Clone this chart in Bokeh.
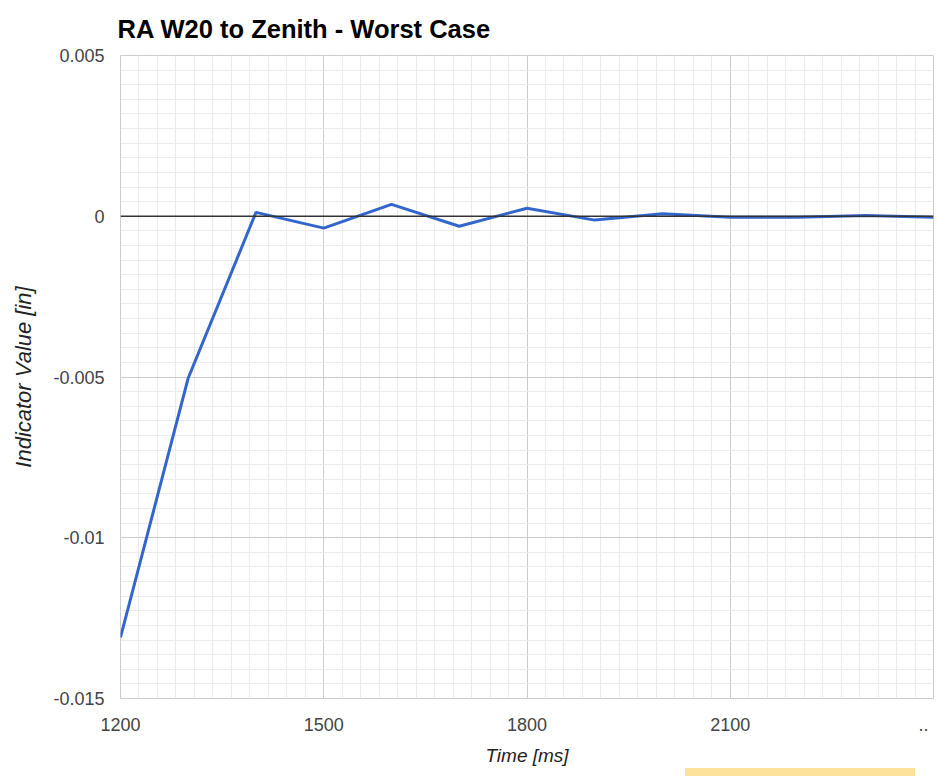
from bokeh.plotting import figure
from bokeh.models import SingleIntervalTicker, Span, Range1d, CustomJSTickFormatter, Div
from bokeh.layouts import column
from bokeh.embed import file_html
from bokeh.resources import INLINE

time_ms = [1200, 1300, 1400, 1500, 1600, 1700, 1800, 1900, 2000, 2100, 2200, 2300, 2400]
indicator = [-0.0131, -0.00503, 0.00012, -0.00037, 0.00037, -0.00031, 0.00025,
             -0.00012, 0.00008, -0.00003, -0.00003, 0.00002, -0.00003]

x_labels = {2400: "..\u00a0\u00a0"}

p = figure(width=938, height=768, output_backend="svg", toolbar_location=None,
           x_range=Range1d(1200, 2400), y_range=Range1d(-0.015, 0.005),
           title="RA W20 to Zenith - Worst Case",
           min_border_left=120, min_border_right=5, min_border_top=55, min_border_bottom=69)

p.title.text_font = "Liberation Sans"
p.title.text_font_style = "bold"
p.title.text_font_size = "25.5px"
p.title.text_color = "#000000"
p.title.vertical_align = "top"
p.title.standoff = 22
p.title.offset = -3

p.xaxis.ticker = SingleIntervalTicker(interval=300, num_minor_ticks=11)
p.yaxis.ticker = SingleIntervalTicker(interval=0.005, num_minor_ticks=11)
p.xaxis.major_label_overrides = x_labels
p.yaxis.formatter = CustomJSTickFormatter(
    code="var s = tick.toFixed(3).replace(/\\.?0+$/, ''); return s === '-0' ? '0' : s;")

for ax in (p.xaxis[0], p.yaxis[0]):
    ax.axis_line_color = None
    ax.major_tick_line_color = None
    ax.minor_tick_line_color = None
    ax.major_label_text_font = "Liberation Sans"
    ax.major_label_text_font_size = "18px"
    ax.major_label_text_color = "#444444"
    ax.axis_label_text_font = "Liberation Sans"
    ax.axis_label_text_font_style = "italic"
    ax.axis_label_text_color = "#222222"

p.xaxis.axis_label = "Time [ms]"
p.yaxis.axis_label = "Indicator Value [in]"
p.xaxis.axis_label_text_font_size = "19px"
p.yaxis.axis_label_text_font_size = "22px"
p.yaxis.major_label_standoff = 10
p.xaxis.major_label_standoff = 10
p.xaxis.axis_label_standoff = 7
p.yaxis.axis_label_standoff = 14

p.xgrid.grid_line_color = "#cccccc"
p.ygrid.grid_line_color = "#cccccc"
p.xgrid.minor_grid_line_color = "#ebebeb"
p.ygrid.minor_grid_line_color = "#ebebeb"

p.outline_line_color = "#cccccc"
p.background_fill_color = "white"
p.border_fill_color = "white"

p.add_layout(Span(location=0, dimension="width", line_color="#333333", line_width=1.5))

p.line(time_ms, indicator, line_color="#3366cc", line_width=3)

bar = Div(text="", width=230, height=8, margin=(0, 0, 0, 685),
          styles={"background-color": "#fde39a"})

layout = column(p, bar, spacing=0)

open("out.html", "w").write(file_html(layout, INLINE))
